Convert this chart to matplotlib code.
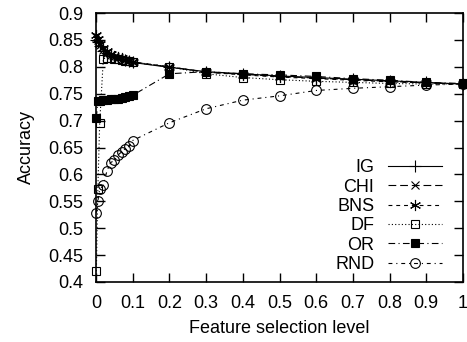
import matplotlib
matplotlib.use('Agg')
import matplotlib.pyplot as plt

# feature selection levels
levels = [0.001, 0.005, 0.01, 0.02, 0.03, 0.04, 0.05, 0.06, 0.07, 0.08,
          0.09, 0.1, 0.2, 0.3, 0.4, 0.5, 0.6, 0.7, 0.8, 0.9, 1.0]

acc_ig = [0.850, 0.846, 0.838, 0.830, 0.825, 0.821, 0.818, 0.816, 0.814,
          0.812, 0.810, 0.808, 0.799, 0.791, 0.787, 0.783, 0.780, 0.777,
          0.774, 0.771, 0.768]
acc_chi = [0.855, 0.850, 0.840, 0.832, 0.826, 0.822, 0.819, 0.816, 0.814,
           0.812, 0.810, 0.808, 0.800, 0.790, 0.786, 0.782, 0.779, 0.776,
           0.773, 0.770, 0.768]
acc_bns = [0.860, 0.852, 0.843, 0.835, 0.829, 0.824, 0.821, 0.818, 0.816,
           0.813, 0.811, 0.809, 0.800, 0.790, 0.785, 0.781, 0.778, 0.775,
           0.772, 0.770, 0.768]
acc_df = [0.420, 0.572, 0.695, 0.815, 0.817, 0.816, 0.815, 0.814, 0.813,
          0.811, 0.810, 0.809, 0.800, 0.787, 0.780, 0.776, 0.773, 0.771,
          0.769, 0.768, 0.768]
acc_or = [0.705, 0.737, 0.736, 0.738, 0.739, 0.740, 0.741, 0.740, 0.742,
          0.743, 0.745, 0.747, 0.787, 0.791, 0.787, 0.785, 0.782, 0.778,
          0.775, 0.771, 0.769]
acc_rnd = [0.529, 0.550, 0.572, 0.580, 0.607, 0.622, 0.626, 0.636, 0.642,
           0.648, 0.652, 0.663, 0.696, 0.722, 0.738, 0.746, 0.756, 0.760,
           0.763, 0.766, 0.768]

xticks = [0, 0.1, 0.2, 0.3, 0.4, 0.5, 0.6, 0.7, 0.8, 0.9, 1]
xticklabels = ['0', '0.1', '0.2', '0.3', '0.4', '0.5', '0.6', '0.7', '0.8',
               '0.9', '1']
yticks = [0.4, 0.45, 0.5, 0.55, 0.6, 0.65, 0.7, 0.75, 0.8, 0.85, 0.9]
yticklabels = ['0.4', '0.45', '0.5', '0.55', '0.6', '0.65', '0.7', '0.75',
               '0.8', '0.85', '0.9']

plt.rcParams['font.family'] = ['Liberation Sans', 'DejaVu Sans']
fs = 13

fig = plt.figure(figsize=(4.67, 3.42), dpi=100)
ax = fig.add_axes([96 / 467, 60 / 342, 367 / 467, 269 / 342])

lw = 0.8
series = [
    ('IG', acc_ig, dict(linestyle='-', marker='+', mfc='none', ms=8)),
    ('CHI', acc_chi, dict(linestyle=(0, (7, 3.5)), marker='x', mfc='none', ms=6)),
    ('BNS', acc_bns, dict(linestyle=(0, (3.5, 3.5)), marker=(6, 2, 0), mfc='none', ms=8)),
    ('DF', acc_df, dict(linestyle=(0, (1, 2)), marker='s', mfc='none', ms=6)),
    ('OR', acc_or, dict(linestyle=(0, (6, 3, 1, 3)), marker='s', mfc='black', ms=6)),
    ('RND', acc_rnd, dict(linestyle=(0, (3.5, 3.5, 1, 3.5)), marker='o', mfc='none', ms=7)),
]
for name, vals, style in series:
    ax.plot(levels, vals, color='black', lw=lw, mew=0.8, label=name,
            clip_on=False, **style)

ax.set_xlim(0, 1)
ax.set_ylim(0.4, 0.9)
ax.set_xticks(xticks)
ax.set_xticklabels(xticklabels)
ax.set_yticks(yticks)
ax.set_yticklabels(yticklabels)
ax.tick_params(direction='in', length=6.5, width=1, top=True, right=True,
               pad=9, labelsize=fs)
for sp in ax.spines.values():
    sp.set_linewidth(1.2)

ax.set_xlabel('Feature selection level', fontsize=fs, labelpad=6)
ax.set_ylabel('Accuracy', fontsize=fs, labelpad=10)

leg = ax.legend(loc='lower right', bbox_to_anchor=(0.967, 0.0),
                frameon=False, markerfirst=False, handlelength=3.0,
                labelspacing=0.13, borderpad=0, handletextpad=0.75,
                fontsize=fs)
for t in leg.get_texts():
    t.set_ha('right')
leg._legend_box.align = 'right'

fig.savefig('out.png', dpi=100)
